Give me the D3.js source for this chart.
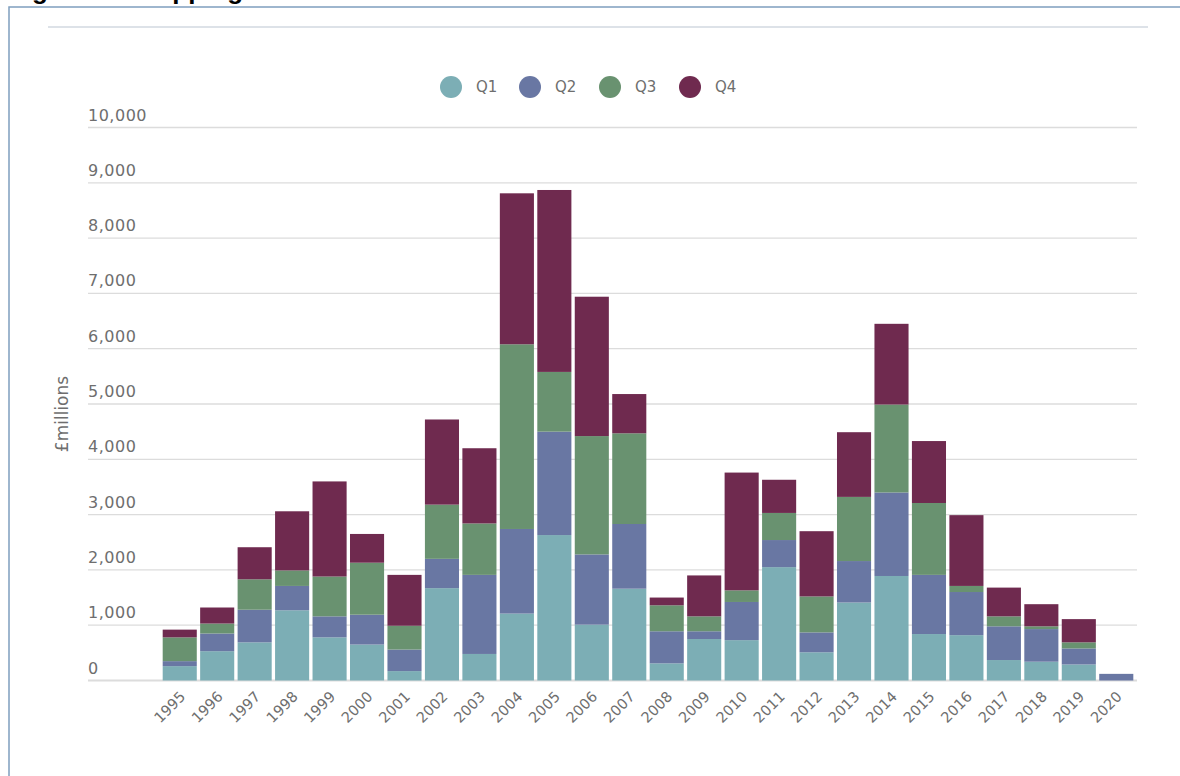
<!DOCTYPE html>
<html>
<head>
<meta charset="utf-8">
<script src="https://cdn.jsdelivr.net/npm/d3@7"></script>
<style>
  html, body { margin: 0; padding: 0; background: #ffffff; }
  svg { display: block; }
</style>
</head>
<body>
<svg id="chart" width="1180" height="776"></svg>
<script>
// Quarterly values, £ millions
const years = ["1995","1996","1997","1998","1999","2000","2001","2002","2003","2004","2005","2006","2007",
               "2008","2009","2010","2011","2012","2013","2014","2015","2016","2017","2018","2019","2020"];
const q1 = [260, 530, 690, 1270, 780, 650, 170, 1670, 480, 1210, 2630, 1010, 1660, 310, 750, 730, 2050, 510, 1410, 1890, 840, 820, 370, 340, 290, 0];
const q2 = [90, 320, 590, 440, 380, 540, 390, 530, 1430, 1530, 1870, 1270, 1170, 580, 140, 690, 490, 360, 750, 1510, 1070, 780, 610, 590, 290, 120];
const q3 = [430, 180, 550, 280, 720, 940, 430, 980, 930, 3340, 1080, 2140, 1640, 470, 270, 210, 490, 650, 1160, 1590, 1300, 110, 180, 50, 110, 0];
const q4 = [140, 290, 580, 1070, 1720, 520, 920, 1540, 1360, 2730, 3290, 2520, 710, 140, 740, 2130, 600, 1180, 1170, 1460, 1120, 1280, 520, 400, 420, 0];
const seriesNames = ["Q1", "Q2", "Q3", "Q4"];
const yTicks = [0, 1000, 2000, 3000, 4000, 5000, 6000, 7000, 8000, 9000, 10000];

const colors = ["#7caeb5", "#6977a3", "#699270", "#6f2a4f"];
const textColor = "#6e6e6e";
const font = "'DejaVu Sans', sans-serif";

const svg = d3.select("#chart");

// Page heading, running off the top of the page
svg.append("text")
  .attr("x", 9).attr("y", -1)
  .attr("font-family", "'Liberation Sans', Arial, sans-serif")
  .attr("font-weight", "bold").attr("font-size", 26)
  .attr("fill", "#000")
  .text("Figure 12 Shipping transactions");

// Panel frame and header rule
svg.append("rect")
  .attr("x", 9).attr("y", 7)
  .attr("width", 1200).attr("height", 800)
  .attr("fill", "#ffffff")
  .attr("stroke", "#7f9fbf").attr("stroke-width", 1.5);

svg.append("line")
  .attr("x1", 48).attr("x2", 1148).attr("y1", 27).attr("y2", 27)
  .attr("stroke", "#dde2e8").attr("stroke-width", 2);

// Scales
const x = d3.scaleBand().domain(years).range([161, 1135]).paddingInner(0.09).paddingOuter(0.045);
const y = d3.scaleLinear().domain([0, 10000]).range([680.5, 127.5]);

// Gridlines with labels sitting above them
const grid = svg.append("g");
grid.selectAll("line").data(yTicks).join("line")
  .attr("x1", 88).attr("x2", 1137)
  .attr("y1", d => y(d)).attr("y2", d => y(d))
  .attr("stroke", "#dcdcdc").attr("stroke-width", d => d === 0 ? 2 : 1.3);
grid.selectAll("text").data(yTicks).join("text")
  .attr("x", 88).attr("y", d => y(d) - 7)
  .attr("font-family", font).attr("font-size", 16)
  .attr("letter-spacing", 0.5)
  .attr("fill", textColor)
  .text(d => d3.format(",")(d));

svg.append("text")
  .attr("transform", "translate(68,414) rotate(-90)")
  .attr("text-anchor", "middle")
  .attr("font-family", font).attr("font-size", 17)
  .attr("fill", textColor)
  .text("£millions");

// Stacked bars
const rows = years.map((yr, i) => ({ year: yr, Q1: q1[i], Q2: q2[i], Q3: q3[i], Q4: q4[i] }));
const stacked = d3.stack().keys(seriesNames)(rows);

svg.append("g").selectAll("g").data(stacked).join("g")
  .attr("fill", (d, i) => colors[i])
  .selectAll("rect").data(d => d).join("rect")
  .attr("x", d => x(d.data.year))
  .attr("width", x.bandwidth())
  .attr("y", d => y(d[1]))
  .attr("height", d => y(d[0]) - y(d[1]));

// Year labels, slanted
const xAxis = d3.axisBottom(x).tickSize(0).tickPadding(0);
const xg = svg.append("g").attr("transform", "translate(0,686)").call(xAxis);
xg.select(".domain").remove();
xg.selectAll("text")
  .attr("font-family", font).attr("font-size", 14.5)
  .attr("fill", textColor)
  .attr("text-anchor", "end")
  .attr("dy", "0.35em")
  .attr("transform", "translate(3,8) rotate(-45)");

// Legend
const legend = svg.append("g");
const legendX = [451, 530, 610, 690];
seriesNames.forEach((name, i) => {
  legend.append("circle")
    .attr("cx", legendX[i]).attr("cy", 87).attr("r", 11)
    .attr("fill", colors[i]);
  legend.append("text")
    .attr("x", legendX[i] + 25).attr("y", 87).attr("dy", "0.35em")
    .attr("font-family", font).attr("font-size", 15)
    .attr("fill", textColor)
    .text(name);
});
</script>
</body>
</html>
